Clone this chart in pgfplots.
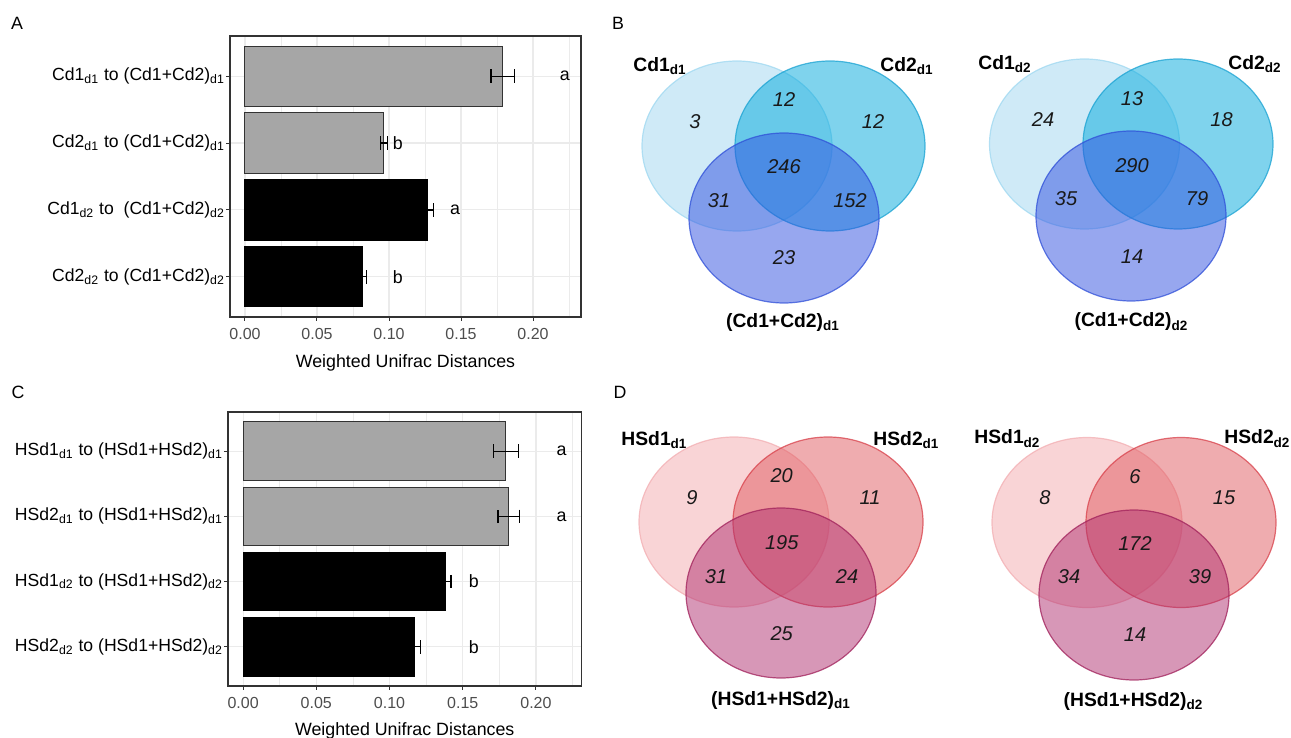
\documentclass[border=0pt]{standalone}
\usepackage{fontspec}
\setmainfont{Liberation Sans}
\usepackage{pgfplots}
\pgfplotsset{compat=1.18}
\definecolor{barg}{HTML}{A6A6A6}
\definecolor{bard}{HTML}{333333}
\definecolor{gridc}{HTML}{EBEBEB}
\definecolor{gray30}{HTML}{4D4D4D}
\definecolor{boxc}{HTML}{333333}
% blue venn
\definecolor{bA}{HTML}{9FD6F0}\definecolor{bAe}{HTML}{9ED8F0}
\definecolor{bB}{HTML}{00A8DC}\definecolor{bBe}{HTML}{1AA2D2}
\definecolor{bC}{HTML}{3050E0}\definecolor{bCe}{HTML}{2F4FD8}
% red venn
\definecolor{rA}{HTML}{F4A9AD}\definecolor{rAe}{HTML}{F2AEB2}
\definecolor{rB}{HTML}{E05A60}\definecolor{rBe}{HTML}{D8404A}
\definecolor{rC}{HTML}{B03070}\definecolor{rCe}{HTML}{A0205A}
\newcommand{\fs}[1]{\fontsize{#1pt}{#1pt}\selectfont}
\pgfplotsset{
 barstyle/.style={
  scale only axis, anchor=north west,
  xbar, bar shift=0pt, bar width=0.9,
  y dir=reverse, ymin=0.4, ymax=4.6,
  ytick={1,2,3,4},
  xtick={0,0.05,0.1,0.15,0.2},
  xticklabels={0.00,0.05,0.10,0.15,0.20},
  minor xtick={0.025,0.075,0.125,0.175,0.225},
  grid=both,
  major grid style={color=gridc, line width=0.55pt},
  minor grid style={color=gridc, line width=0.3pt},
  tick pos=left, tick align=outside,
  major tick length=2pt, minor tick length=0pt,
  tick style={color=boxc, line width=0.5pt},
  axis line style={color=boxc, line width=0.7pt},
  x tick label style={font=\fs{8}, color=gray30},
  y tick label style={font=\fs{8.8}, color=black, xshift=3pt},
  xlabel={Weighted Unifrac Distances},
  xlabel style={font=\fs{8.9}},
  clip=false,
 },
 gbar/.style={fill=barg, draw=bard, line width=0.5pt,
  error bars/.cd, x dir=both, x explicit,
  error bar style={black, line width=0.6pt},
  error mark options={black, rotate=90, mark size=3.4pt, line width=0.6pt}},
 kbar/.style={fill=black, draw=black, line width=0.5pt,
  error bars/.cd, x dir=both, x explicit,
  error bar style={black, line width=0.6pt},
  error mark options={black, rotate=90, mark size=3.4pt, line width=0.6pt}},
}
\tikzset{
 vlab/.style={font=\fs{9.65}\bfseries, inner sep=0pt},
 vnum/.style={font=\fs{10}\itshape, inner sep=0pt, text=black!90},
 plet/.style={font=\fs{8.9}, inner sep=0pt},
 circ/.style n args={2}{fill=#1, fill opacity=0.5, draw=#2, draw opacity=0.75, line width=0.6pt},
}
\begin{document}
\begin{tikzpicture}
\useasboundingbox (0,0) rectangle (645.5pt,369pt);

% ---------------- Panel A ----------------
\begin{axis}[barstyle, at={(115pt,351pt)}, width=175.5pt, height=140.5pt,
  xmin=-0.0104, xmax=0.2333, xlabel style={yshift=-0.5pt},
  yticklabels={
   {Cd1\textsubscript{d1} to (Cd1+Cd2)\textsubscript{d1}},
   {Cd2\textsubscript{d1} to (Cd1+Cd2)\textsubscript{d1}},
   {Cd1\textsubscript{d2} to\ \ (Cd1+Cd2)\textsubscript{d2}},
   {Cd2\textsubscript{d2} to (Cd1+Cd2)\textsubscript{d2}}}]
\addplot[gbar] coordinates {(0.1790,1) +- (0.0082,0) (0.0963,2) +- (0.0024,0)};
\addplot[kbar] coordinates {(0.1270,3) +- (0.0039,0) (0.0817,4) +- (0.0026,0)};
\node[font=\fs{8.9}] at (axis cs:0.2221,1) {a};
\node[font=\fs{8.9}] at (axis cs:0.1062,2) {b};
\node[font=\fs{8.9}] at (axis cs:0.1458,3) {a};
\node[font=\fs{8.9}] at (axis cs:0.1062,4) {b};
\end{axis}

% ---------------- Panel C ----------------
\begin{axis}[barstyle, at={(114pt,163pt)}, width=176.75pt, height=137pt,
  xmin=-0.0103, xmax=0.2311, xlabel style={yshift=0pt},
  yticklabels={
   {HSd1\textsubscript{d1} to (HSd1+HSd2)\textsubscript{d1}},
   {HSd2\textsubscript{d1} to (HSd1+HSd2)\textsubscript{d1}},
   {HSd1\textsubscript{d2} to (HSd1+HSd2)\textsubscript{d2}},
   {HSd2\textsubscript{d2} to (HSd1+HSd2)\textsubscript{d2}}}]
\addplot[gbar] coordinates {(0.1795,1) +- (0.0084,0) (0.1813,2) +- (0.0072,0)};
\addplot[kbar] coordinates {(0.1380,3) +- (0.0040,0) (0.1172,4) +- (0.0040,0)};
\node[font=\fs{8.9}] at (axis cs:0.2175,1) {a};
\node[font=\fs{8.9}] at (axis cs:0.2175,2) {a};
\node[font=\fs{8.9}] at (axis cs:0.1576,3) {b};
\node[font=\fs{8.9}] at (axis cs:0.1576,4) {b};
\end{axis}

% ---------------- Venn diagrams + panel letters ----------------
\begin{axis}[at={(0pt,0pt)}, anchor=south west, scale only axis,
  width=645.5pt, height=369pt, xmin=0, xmax=1291, ymin=0, ymax=738,
  y dir=reverse, hide axis, clip=false]
% panel letters
\node[plet] at (axis cs:17,23) {A};
\node[plet] at (axis cs:618,23) {B};
\node[plet] at (axis cs:18,392) {C};
\node[plet] at (axis cs:620,392) {D};

% B left
\path[circ={bA}{bAe}] (axis cs:737,146) ellipse [x radius=47.5pt, y radius=42.5pt];
\path[circ={bB}{bBe}] (axis cs:830,146) ellipse [x radius=47.5pt, y radius=42.5pt];
\path[circ={bC}{bCe}] (axis cs:784,218) ellipse [x radius=47.5pt, y radius=42.5pt];
\node[vlab, anchor=base west] at (axis cs:633,72) {Cd1\textsubscript{d1}};
\node[vlab, anchor=base west] at (axis cs:880,72) {Cd2\textsubscript{d1}};
\node[vlab, anchor=base] at (axis cs:783,328) {(Cd1+Cd2)\textsubscript{d1}};
\node[vnum] at (axis cs:695,122) {3};
\node[vnum] at (axis cs:784,100) {12};
\node[vnum] at (axis cs:873,122) {12};
\node[vnum] at (axis cs:784,167) {246};
\node[vnum] at (axis cs:719,201) {31};
\node[vnum] at (axis cs:850,201) {152};
\node[vnum] at (axis cs:784,258) {23};

% B right
\path[circ={bA}{bAe}] (axis cs:1084.5,144) ellipse [x radius=47.5pt, y radius=42.5pt];
\path[circ={bB}{bBe}] (axis cs:1178,144) ellipse [x radius=47.5pt, y radius=42.5pt];
\path[circ={bC}{bCe}] (axis cs:1131,216) ellipse [x radius=47.5pt, y radius=42.5pt];
\node[vlab, anchor=base west] at (axis cs:978,70) {Cd1\textsubscript{d2}};
\node[vlab, anchor=base west] at (axis cs:1228,70) {Cd2\textsubscript{d2}};
\node[vlab, anchor=base] at (axis cs:1131.5,327) {(Cd1+Cd2)\textsubscript{d2}};
\node[vnum] at (axis cs:1043,120) {24};
\node[vnum] at (axis cs:1132,99) {13};
\node[vnum] at (axis cs:1221.6,120) {18};
\node[vnum] at (axis cs:1132,166) {290};
\node[vnum] at (axis cs:1066,199) {35};
\node[vnum] at (axis cs:1197,199) {79};
\node[vnum] at (axis cs:1132,257) {14};

% D left
\path[circ={rA}{rAe}] (axis cs:734,522) ellipse [x radius=47.5pt, y radius=42.5pt];
\path[circ={rB}{rBe}] (axis cs:828,522) ellipse [x radius=47.5pt, y radius=42.5pt];
\path[circ={rC}{rCe}] (axis cs:781,593) ellipse [x radius=47.5pt, y radius=42.5pt];
\node[vlab, anchor=base west] at (axis cs:621,445) {HSd1\textsubscript{d1}};
\node[vlab, anchor=base west] at (axis cs:873,445) {HSd2\textsubscript{d1}};
\node[vlab, anchor=base] at (axis cs:781,705) {(HSd1+HSd2)\textsubscript{d1}};
\node[vnum] at (axis cs:692,498) {9};
\node[vnum] at (axis cs:781.7,476) {20};
\node[vnum] at (axis cs:870,498) {11};
\node[vnum] at (axis cs:781.7,543) {195};
\node[vnum] at (axis cs:716,577) {31};
\node[vnum] at (axis cs:847,577) {24};
\node[vnum] at (axis cs:781.7,634) {25};

% D right
\path[circ={rA}{rAe}] (axis cs:1087,522.5) ellipse [x radius=47.5pt, y radius=42.5pt];
\path[circ={rB}{rBe}] (axis cs:1181,522.5) ellipse [x radius=47.5pt, y radius=42.5pt];
\path[circ={rC}{rCe}] (axis cs:1134,595) ellipse [x radius=47.5pt, y radius=42.5pt];
\node[vlab, anchor=base west] at (axis cs:974,444) {HSd1\textsubscript{d2}};
\node[vlab, anchor=base west] at (axis cs:1224,444) {HSd2\textsubscript{d2}};
\node[vlab, anchor=base] at (axis cs:1133.5,706.7) {(HSd1+HSd2)\textsubscript{d2}};
\node[vnum] at (axis cs:1045,498) {8};
\node[vnum] at (axis cs:1135,477) {6};
\node[vnum] at (axis cs:1224,498) {15};
\node[vnum] at (axis cs:1135,544) {172};
\node[vnum] at (axis cs:1069,577) {34};
\node[vnum] at (axis cs:1200,577) {39};
\node[vnum] at (axis cs:1135,635) {14};
\end{axis}
\end{tikzpicture}
\end{document}
